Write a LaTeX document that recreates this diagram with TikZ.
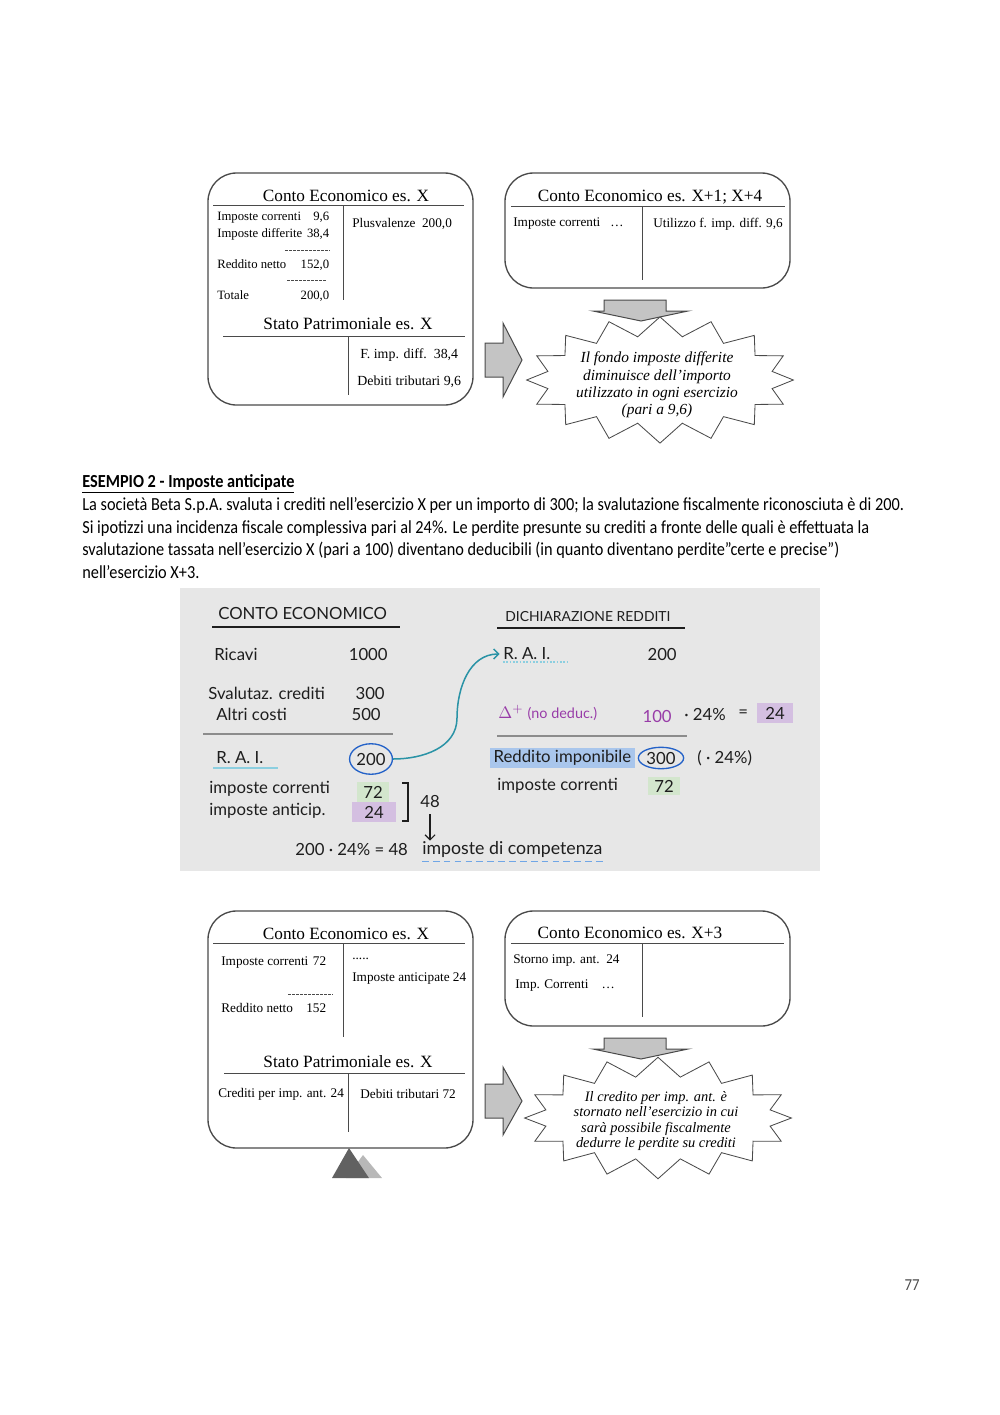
\documentclass[tikz,border=0pt]{standalone}
\usepackage{fontspec}
\setmainfont{Carlito}[FakeStretch=0.885]
\newfontfamily\timesfont{Liberation Serif}
\newfontfamily\handfont{Lato}
\usetikzlibrary{arrows.meta,shapes.geometric,shapes.symbols}
\definecolor{Frame}{HTML}{4A4A4A}
\definecolor{ArrowFill}{HTML}{C4C4C4}
\definecolor{Panel}{HTML}{E7E7E7}
\definecolor{HandInk}{HTML}{1E1E1E}
\definecolor{Teal}{HTML}{2A93A6}
\definecolor{RingBlue}{HTML}{2462C8}
\definecolor{Lilac}{HTML}{D4BFE1}
\definecolor{Mint}{HTML}{D3E6CD}
\definecolor{HiBlue}{HTML}{A9C6EC}
\definecolor{Plum}{HTML}{983CA8}
\definecolor{SoftCyan}{HTML}{8CCFE0}
\newcommand{\lrow}[3]{\makebox[#1][l]{#2\hfill #3}}
\tikzset{
  card/.style={draw=Frame, line width=0.8pt, rounded corners=17pt},
  rule/.style={draw=Frame, line width=0.6pt},
  sep/.style={draw=Frame, line width=0.5pt, dash pattern=on 1.6pt off 0.8pt},
  head/.style={font=\timesfont\fontsize{10.3}{12}\selectfont, inner sep=0pt},
  entry/.style={font=\timesfont\fontsize{7.9}{9}\selectfont, anchor=west, inner sep=0pt},
  row/.style={entry, font=\timesfont\fontsize{7.6}{9}\selectfont},
  blockarrow/.style={draw=Frame, fill=ArrowFill, line width=0.6pt, line join=miter},
  burst/.style={starburst, starburst points=16, starburst point height=0.4cm, random starburst=0,
    draw=Frame, line width=0.5pt, fill=white, minimum width=5.6cm},
  burstnote/.style={align=center, inner sep=0pt},
  hw/.style={font=\handfont\fontsize{10}{12}\selectfont, text=HandInk, anchor=west, inner sep=0pt},
  hwnum/.style={hw, anchor=east},
  chip/.style={font=\handfont\fontsize{10}{12}\selectfont, text=HandInk, inner sep=0pt},
  ring/.style={ellipse, draw=RingBlue, line width=0.8pt, font=\handfont\fontsize{10}{12}\selectfont, text=HandInk, inner sep=0pt},
  ink/.style={draw=HandInk, line width=0.8pt},
  split/.style={draw=black!45, line width=1.1pt},
}

\begin{document}
\begin{tikzpicture}[x=0.021cm, y=-0.021cm]
  \useasboundingbox (0,0) rectangle (1000,1415);

  % ---- esempio 1: imposte differite
  \draw[card] (208,173) rectangle (473,405);
  \node[head] (ceX) at (346,196) {Conto Economico es. X};
  \draw[rule] (213,205) -- (464,205);
  \draw[rule] (343,205) -- (343,300);
  \node[row] (impCorr) at (217,218) {\lrow{2.35cm}{Imposte correnti}{9,6}};
  \node[row] (impDiff) at (217,234) {\lrow{2.35cm}{Imposte differite}{38,4}};
  \draw[sep] (285,250) -- (330,250);
  \node[row] (rnetto) at (217,265) {\lrow{2.35cm}{Reddito netto}{152,0}};
  \draw[sep] (287,280) -- (327,280);
  \node[row] (totale) at (217,296) {\lrow{2.35cm}{Totale}{200,0}};
  \node[entry] (plusv) at (352,224) {Plusvalenze\ \ 200,0};
  \node[head] (spX) at (348,324) {Stato Patrimoniale es. X};
  \draw[rule] (223,336) -- (465,336);
  \draw[rule] (348,336) -- (348,395);
  \node[entry, font=\timesfont\fontsize{8.3}{9}\selectfont] (fondo) at (360,355) {F. imp. diff.\ \ 38,4};
  \node[entry, font=\timesfont\fontsize{8.3}{9}\selectfont] (debiti) at (357,382) {Debiti tributari 9,6};

  \draw[card] (505,173) rectangle (790,288);
  \node[head] (ceX14) at (650,197) {Conto Economico es. X+1; X+4};
  \draw[rule] (511,206) -- (785,206);
  \draw[rule] (642,206) -- (642,280);
  \node[entry] (impCorr2) at (513,224) {Imposte correnti\ \ \ \dots};
  \node[entry] (utilizzo) at (653,224) {Utilizzo f. imp. diff. 9,6};

  \draw[blockarrow] (604,300) -- (666,300) -- (666,311) -- (688,311) -- (641,321)
    -- (593,311) -- (604,311) -- cycle;
  \draw[blockarrow] (485,343) -- (503,343) -- (503,323) -- (522,360) -- (503,397)
    -- (503,377) -- (485,377) -- cycle;
  \node[burst, minimum height=2.65cm] (burstA) at (660,380) {};
  \node[burstnote, font=\timesfont\itshape\fontsize{9.2}{10.3}\selectfont] (noteA) at (657,385)
    {Il fondo imposte differite\\diminuisce dell’importo\\utilizzato in ogni esercizio\\(pari a 9,6)};

  % ---- testo
  \node[anchor=west, inner sep=0pt, font=\bfseries\fontsize{11}{13.5}\selectfont] (title) at (82,484)
    {\underline{ESEMPIO 2 - Imposte anticipate}};
  \node[anchor=north west, inner sep=0pt, align=left, font=\fontsize{11}{13.55}\selectfont] (intro) at (82,497)
    {La società Beta S.p.A. svaluta i crediti nell’esercizio X per un importo di 300; la svalutazione fiscalmente riconosciuta è di 200.\\
     Si ipotizzi una incidenza fiscale complessiva pari al 24\%. Le perdite presunte su crediti a fronte delle quali è effettuata la\\
     svalutazione tassata nell’esercizio X (pari a 100) diventano deducibili (in quanto diventano perdite”certe e precise”)\\
     nell’esercizio X+3.};

  % ---- lavagna
  \fill[Panel] (180,588) rectangle (820,871);
  \node[hw] (ceHand) at (218,613) {CONTO ECONOMICO};
  \draw[ink] (212,627) -- (400,627);
  \node[hw] (ricavi) at (214,654) {Ricavi};
  \node[hwnum] (v1000) at (388,654) {1000};
  \node[hw] (sval) at (208,693) {Svalutaz. crediti};
  \node[hwnum] (v300) at (385,693) {300};
  \node[hw] (altri) at (216,714) {Altri costi};
  \node[hwnum] (v500) at (381,714) {500};
  \draw[split] (203,734) -- (393,734);
  \node[hw] (raiL) at (216,758) {R. A. I.};
  \draw[draw=SoftCyan, line width=0.8pt] (213,768) -- (278,768);
  \node[ring, minimum width=0.9cm, minimum height=0.64cm] (c200) at (371,759) {200};
  \node[hw] (impcL) at (209,789) {imposte correnti};
  \node[chip, fill=Mint, minimum width=0.67cm, minimum height=0.4cm] (g72) at (373,792) {72};
  \node[hw] (impaL) at (209,811) {imposte anticip.};
  \node[chip, fill=Lilac, minimum width=0.92cm, minimum height=0.42cm] (p24) at (374,812) {24};
  \draw[ink] (402,783) -- (408,783) -- (408,821) -- (402,821);
  \node[hw] (n48) at (420,801) {48};
  \node[hw] (calc) at (295,849) {200 · 24\% = 48};
  \node[hw, font=\handfont\fontsize{10.6}{12}\selectfont] (comp) at (422,849) {imposte di competenza};
  \draw[ink, line width=0.7pt, -{Straight Barb[length=3pt]}] ([yshift=-4pt]n48.south) -- (n48.south |- comp.north);
  \draw[draw=SoftCyan!80!blue, line width=0.8pt, dash pattern=on 4pt off 2.5pt]
    ([yshift=-2.5pt]comp.south west) -- ([yshift=-2.5pt]comp.south east);

  \node[hw, font=\handfont\fontsize{8.3}{9}\selectfont] (drHand) at (505,617) {DICHIARAZIONE REDDITI};
  \draw[ink] (497,628) -- (685,628);
  \node[hw] (raiR) at (503,654) {R. A. I.};
  \draw[draw=SoftCyan, line width=0.8pt, dash pattern=on 1pt off 1pt] (503,662) -- (567,662);
  \node[hwnum] (v200) at (677,654) {200};
  \node[hw, text=Plum] (delta) at (498,713) {$\Delta^{+}$ {\fontsize{8.6}{9}\selectfont (no deduc.)}};
  \node[hwnum, text=Plum] (v100) at (672,716) {100};
  \node[hw] (pct) at (684,714) {· 24\%};
  \node[hw] (eq) at (738,714) {=};
  \node[chip, fill=Lilac, minimum width=0.76cm, minimum height=0.42cm] (p24r) at (775,713) {24};
  \draw[split] (497,736) -- (687,736);
  \node[chip, fill=HiBlue, anchor=west, minimum height=0.44cm, inner xsep=2pt] (redd) at (490,758) {Reddito imponibile};
  \node[ring, minimum width=0.95cm, minimum height=0.45cm] (c300) at (661,758) {300};
  \node[hw] (pct2) at (697,758) {( · 24\%)};
  \node[hw] (impcR) at (497,786) {imposte correnti};
  \node[chip, fill=Mint, minimum width=0.69cm, minimum height=0.38cm] (g72r) at (664,786) {72};
  \draw[Teal, line width=0.9pt, -{Straight Barb[length=3pt]}]
    (c200.east) to[out=0, in=-90] (457,718) to[out=90, in=180] ([xshift=-2pt]raiR.west);

  % ---- esempio 2: imposte anticipate
  \draw[card] (208,911) rectangle (473,1148);
  \node[head] (ceXb) at (346,934) {Conto Economico es. X};
  \draw[rule] (213,943) -- (465,943);
  \draw[rule] (343,943) -- (343,1037);
  \node[entry] (impCorrB) at (221,963) {\lrow{2.2cm}{Imposte correnti}{72}};
  \draw[sep] (288,994) -- (333,994);
  \node[entry] (rnettoB) at (221,1008) {\lrow{2.2cm}{Reddito netto}{152}};
  \node[entry] (dotsB) at (352,959) {.....};
  \node[entry] (impAnt) at (352,979) {Imposte anticipate 24};
  \node[head] (spXb) at (348,1062) {Stato Patrimoniale es. X};
  \draw[rule] (224,1073) -- (465,1073);
  \draw[rule] (348,1073) -- (348,1132);
  \node[entry] (crediti) at (218,1094) {Crediti per imp. ant. 24};
  \node[entry] (debitiB) at (360,1094) {Debiti tributari 72};
  \fill[black!28] (363,1155) -- (382,1178) -- (346,1178) -- cycle;
  \fill[black!62] (349,1148) -- (369,1178) -- (332,1178) -- cycle;

  \draw[card] (505,911) rectangle (790,1026);
  \node[head] (ceX3) at (630,933) {Conto Economico es. X+3};
  \draw[rule] (511,943) -- (784,943);
  \draw[rule] (642,943) -- (642,1017);
  \node[entry] (storno) at (513,961) {Storno imp. ant.\ \ 24};
  \node[entry] (impCorrC) at (515,986) {Imp. Correnti\ \ \ \ \dots};

  \draw[blockarrow] (604,1038) -- (666,1038) -- (666,1049) -- (688,1049) -- (641,1059)
    -- (593,1049) -- (604,1049) -- cycle;
  \draw[blockarrow] (485,1084) -- (503,1084) -- (503,1067) -- (522,1101) -- (503,1135)
    -- (503,1118) -- (485,1118) -- cycle;
  \node[burst, minimum height=2.55cm] (burstB) at (658,1118) {};
  \node[burstnote, font=\timesfont\itshape\fontsize{8.6}{9}\selectfont] (noteB) at (656,1121)
    {Il credito per imp. ant. è\\stornato nell’esercizio in cui\\sarà possibile fiscalmente\\dedurre le perdite su crediti};

  \node[font=\fontsize{10}{12}\selectfont, text=black!70] (pageno) at (912,1285) {77};
\end{tikzpicture}
\end{document}
